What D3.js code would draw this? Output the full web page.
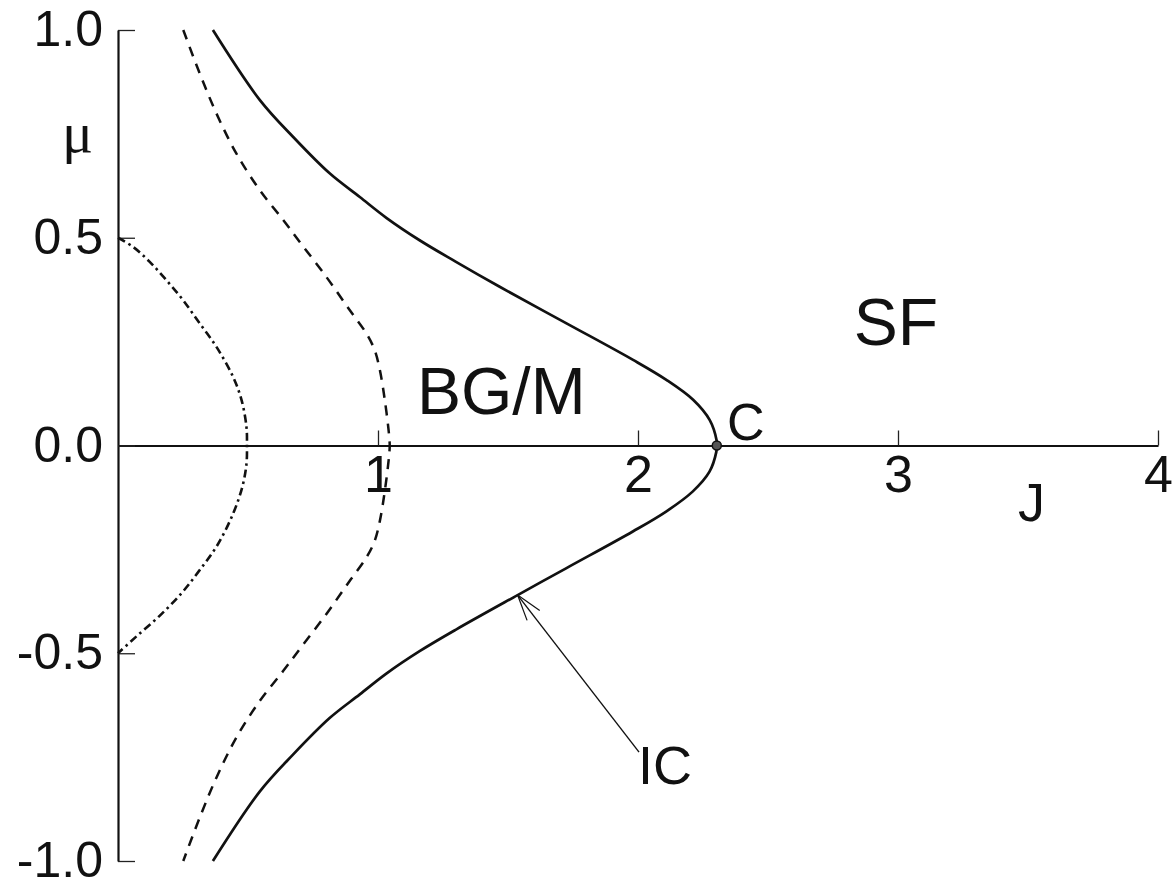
<!DOCTYPE html>
<html>
<head>
<meta charset="utf-8">
<script src="https://cdn.jsdelivr.net/npm/d3@7"></script>
<style>
  html, body { margin: 0; padding: 0; background: #fff; }
  svg { display: block; }
  text { font-family: "Liberation Sans", Arial, Helvetica, sans-serif; fill: #111; }
</style>
</head>
<body>
<svg id="chart" width="1172" height="887"></svg>
<script>
// Axis ticks
const jTicks = [1, 2, 3, 4];
const muTicks = [-1, -0.5, 0, 0.5, 1];

// Incommensurate-commensurate boundary (solid), read top to bottom
const icJ  = [0.365, 0.545, 0.673, 0.814, 0.930, 1.032, 1.160, 1.300, 1.468, 1.725, 1.981, 2.109, 2.212, 2.276, 2.302, 2.303,
              2.301, 2.275, 2.210, 2.108, 1.980, 1.725, 1.537, 1.300, 1.160, 1.032, 0.930, 0.814, 0.673, 0.545, 0.365];
const icMu = [1.000, 0.832, 0.743, 0.655, 0.598, 0.548, 0.494, 0.442, 0.382, 0.294, 0.206, 0.158, 0.110, 0.061, 0.013, 0.000,
              -0.016, -0.063, -0.111, -0.159, -0.207, -0.295, -0.360, -0.443, -0.495, -0.549, -0.599, -0.656, -0.744, -0.833, -1.000];

// Dashed boundary
const dashJ  = [0.251, 0.314, 0.378, 0.455, 0.545, 0.635, 0.699, 0.801, 0.891, 0.955, 0.987, 1.007, 1.026, 1.042, 1.045,
                1.042, 1.026, 1.007, 0.987, 0.955, 0.891, 0.801, 0.699, 0.635, 0.545, 0.455, 0.378, 0.314, 0.251];
const dashMu = [1.000, 0.896, 0.800, 0.703, 0.615, 0.543, 0.490, 0.406, 0.326, 0.270, 0.230, 0.182, 0.110, 0.029, 0.000,
                -0.029, -0.110, -0.182, -0.230, -0.270, -0.326, -0.406, -0.490, -0.543, -0.615, -0.703, -0.800, -0.896, -1.000];

// Dash-dot boundary
const ddJ  = [0.000, 0.058, 0.122, 0.186, 0.250, 0.314, 0.378, 0.442, 0.475, 0.494, 0.496,
              0.494, 0.478, 0.442, 0.382, 0.314, 0.245, 0.160, 0.070, 0.000];
const ddMu = [0.500, 0.478, 0.442, 0.398, 0.350, 0.294, 0.238, 0.166, 0.110, 0.045, 0.000,
              -0.045, -0.100, -0.165, -0.240, -0.300, -0.355, -0.410, -0.460, -0.500];

// Multicritical point C
const pointC = { J: 2.303, mu: 0 };

// Region / curve labels (anchor positions in data units)
const labelText = ["BG/M", "SF", "C", "IC", "J"];
const labelJ    = [1.150, 2.830, 2.342, 2.000, 3.462];
const labelMu   = [0.077, 0.242, 0.013, -0.815, -0.182];
const labelSize = [66, 66, 52, 54, 54];

// IC arrow: tail near label, head on the solid curve
const arrowJ  = [2.004, 1.537];
const arrowMu = [-0.738, -0.360];

const svg = d3.select("#chart");
svg.append("rect").attr("width", 1172).attr("height", 887).attr("fill", "#fff");

const x = d3.scaleLinear().domain([0, 4]).range([118, 1158]);
const y = d3.scaleLinear().domain([-1, 1]).range([861, 30]);

// Horizontal J axis through mu = 0, ticks pointing up, labels below
const xAxis = svg.append("g")
  .attr("transform", `translate(0,${y(0)})`)
  .call(d3.axisBottom(x).tickValues(jTicks).tickSizeInner(-15).tickSizeOuter(0)
        .tickPadding(10).tickFormat(d3.format("d")));
xAxis.select(".domain").attr("stroke", "#111").attr("stroke-width", 2.2);
xAxis.selectAll(".tick line").attr("stroke", "#222").attr("stroke-width", 1.3);
xAxis.selectAll(".tick text").attr("font-size", 52).attr("fill", "#111")
  .style("font-family", "'Liberation Sans', Arial, sans-serif");

// Vertical mu axis, ticks pointing right, labels to the left
const yAxis = svg.append("g")
  .attr("transform", `translate(${x(0)},0)`)
  .call(d3.axisLeft(y).tickValues(muTicks).tickSizeInner(-17).tickSizeOuter(0)
        .tickPadding(15).tickFormat(d => d.toFixed(1)));
yAxis.select(".domain").attr("stroke", "#111").attr("stroke-width", 2.2);
yAxis.selectAll(".tick line").attr("stroke", "#222").attr("stroke-width", 1.3);
yAxis.selectAll(".tick text").attr("font-size", 50).attr("dy", "0.31em").attr("fill", "#111")
  .style("font-family", "'Liberation Sans', Arial, sans-serif");

// Boundary curves
const zip = (js, mus) => js.map((j, i) => ({ J: j, mu: mus[i] }));
const line = d3.line().x(d => x(d.J)).y(d => y(d.mu)).curve(d3.curveCatmullRom.alpha(0.5));

svg.append("path").datum(zip(ddJ, ddMu))
  .attr("d", line).attr("fill", "none").attr("stroke", "#111")
  .attr("stroke-width", 2.6).attr("stroke-dasharray", "8,4,2.5,4");

svg.append("path").datum(zip(dashJ, dashMu))
  .attr("d", line).attr("fill", "none").attr("stroke", "#111")
  .attr("stroke-width", 2.5).attr("stroke-dasharray", "10,8");

svg.append("path").datum(zip(icJ, icMu))
  .attr("d", line).attr("fill", "none").attr("stroke", "#111")
  .attr("stroke-width", 2.7);

// Point C
svg.append("circle")
  .attr("cx", x(pointC.J)).attr("cy", y(pointC.mu)).attr("r", 4.5)
  .attr("fill", "#555").attr("stroke", "#111").attr("stroke-width", 1.5);

// IC arrow with open head
const tail = [x(arrowJ[0]), y(arrowMu[0])];
const head = [x(arrowJ[1]), y(arrowMu[1])];
svg.append("line")
  .attr("x1", tail[0]).attr("y1", tail[1]).attr("x2", head[0]).attr("y2", head[1])
  .attr("stroke", "#111").attr("stroke-width", 1.4);
const ang = Math.atan2(tail[1] - head[1], tail[0] - head[0]);
const barb = 27, spread = 0.3;
[ang - spread, ang + spread].forEach(a => {
  svg.append("line")
    .attr("x1", head[0]).attr("y1", head[1])
    .attr("x2", head[0] + barb * Math.cos(a)).attr("y2", head[1] + barb * Math.sin(a))
    .attr("stroke", "#111").attr("stroke-width", 1.2);
});

// Labels
labelText.forEach((t, i) => {
  svg.append("text")
    .attr("x", x(labelJ[i])).attr("y", y(labelMu[i]))
    .attr("font-size", labelSize[i])
    .text(t);
});

// mu axis title
svg.append("text")
  .attr("x", 62).attr("y", 152)
  .attr("font-size", 58)
  .style("font-family", "'Liberation Serif', 'DejaVu Serif', serif")
  .text("μ");
</script>
</body>
</html>
